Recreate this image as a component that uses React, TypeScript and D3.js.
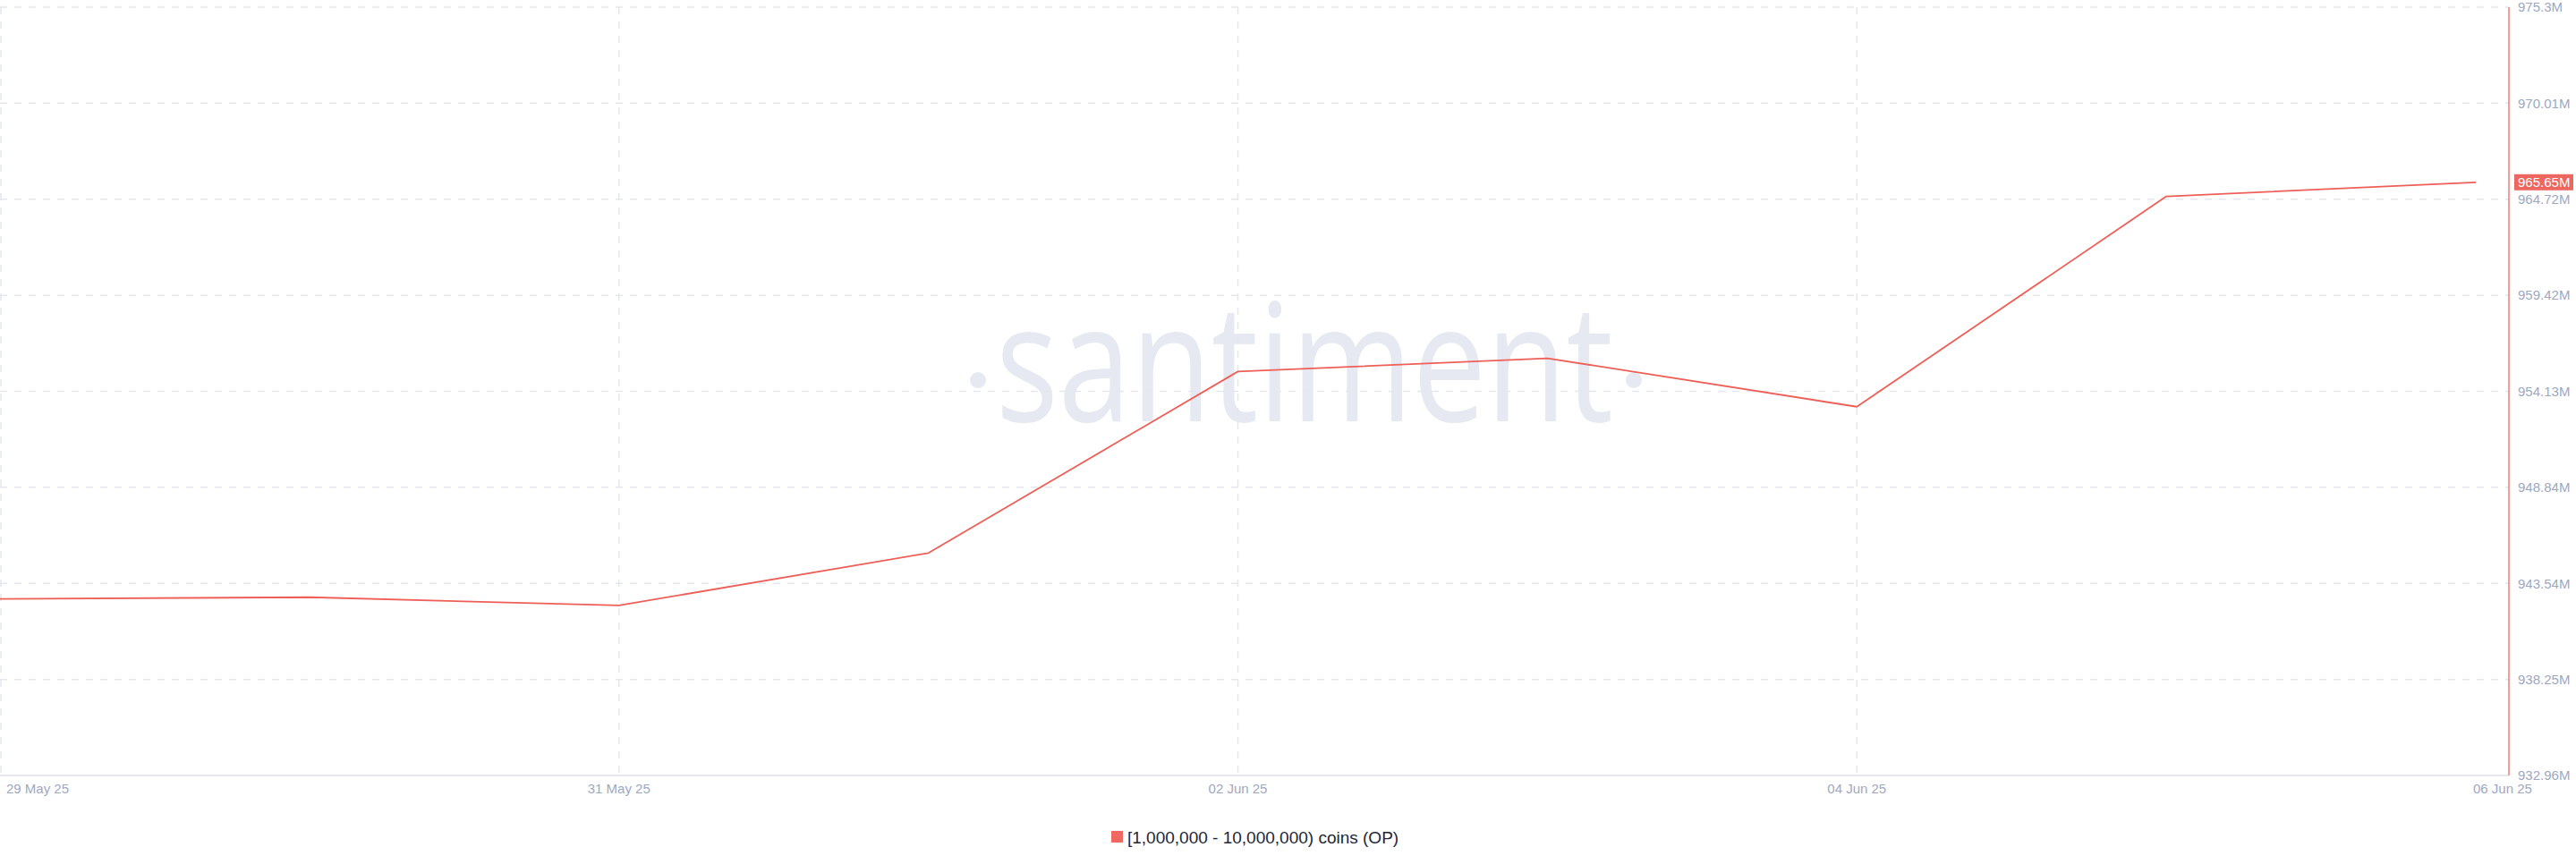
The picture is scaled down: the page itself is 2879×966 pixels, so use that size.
import React from "react";
import * as d3 from "d3";

const dates = ["2025-05-29", "2025-05-30", "2025-05-31", "2025-06-01", "2025-06-02", "2025-06-03", "2025-06-04", "2025-06-05", "2025-06-06"];
const values = [942.69, 942.78, 942.33, 945.22, 955.22, 955.95, 953.28, 964.87, 965.65];
const yTicks = [932.96, 938.25, 943.54, 948.84, 954.13, 959.42, 964.72, 970.01, 975.3];
const xTickDates = ["2025-05-29", "2025-05-31", "2025-06-02", "2025-06-04", "2025-06-06"];
const seriesName = "[1,000,000 - 10,000,000) coins (OP)";
const lastLabel = "965.65M";

const W = 2879;
const H = 966;
const axisX = 2804;
const top = 8;
const bottom = 867;
const FONT = "'Liberation Sans', Arial, sans-serif";
const RED = "#ee5f58";
const LABEL = "#9ea8c1";
const GRID = "#e4e7ef";

export default function App() {
  const parse = d3.utcParse("%Y-%m-%d");
  const fmt = d3.utcFormat("%d %b %y");
  const x = d3.scaleUtc().domain([parse(dates[0])!, parse(dates[dates.length - 1])!]).range([0, 2767]);
  const y = d3.scaleLinear().domain([932.96, 975.3]).range([bottom, top]);
  const pts = dates.map((d, i) => [x(parse(d)!), y(values[i])] as [number, number]);
  const line = d3.line()(pts) || "";
  const lastY = y(values[values.length - 1]);

  return (
    <svg width={W} height={H} style={{ position: "absolute", left: 0, top: 0, background: "#fff" }}>
      {/* watermark */}
      <g fill="#e6e9f1">
        <circle cx={1093} cy={425} r={9} />
        <text x={1113} y={471} fontFamily="'Open Sans', sans-serif" fontWeight={500} fontSize={183} textLength={690} lengthAdjust="spacingAndGlyphs">santiment</text>
        <circle cx={1826} cy={425} r={9} />
      </g>
      {/* horizontal grid */}
      {yTicks.slice(1).map((t) => (
        <line key={"h" + t} x1={0} x2={axisX} y1={y(t)} y2={y(t)} stroke={GRID} strokeWidth={1.5} strokeDasharray="8,8" />
      ))}
      {/* vertical grid */}
      {xTickDates.slice(0, 4).map((d) => (
        <line key={"v" + d} x1={Math.max(1, x(parse(d)!))} x2={Math.max(1, x(parse(d)!))} y1={top} y2={bottom} stroke={GRID} strokeWidth={1.5} strokeDasharray="8,8" />
      ))}
      {/* bottom axis */}
      <line x1={0} x2={axisX} y1={bottom} y2={bottom} stroke="#dfe2ea" strokeWidth={1.5} />
      {/* right axis */}
      <line x1={axisX} x2={axisX} y1={top} y2={bottom} stroke="#f07b74" strokeWidth={1.5} />
      {/* series */}
      <path d={line} fill="none" stroke={RED} strokeWidth={1.8} strokeLinejoin="round" />
      {/* y labels */}
      {yTicks.map((t) => (
        <text key={"yl" + t} x={2814} y={y(t)} dy="0.35em" fill={LABEL} fontFamily={FONT} fontSize={15}>{`${t}M`}</text>
      ))}
      {/* last value badge */}
      <rect x={2810} y={lastY - 9} width={66} height={18} fill="#ee6660" />
      <text x={2814} y={lastY} dy="0.36em" fill="#fff" fontFamily={FONT} fontSize={15}>{lastLabel}</text>
      {/* x labels */}
      {xTickDates.map((d, i) => {
        const xp = x(parse(d)!);
        const first = i === 0;
        const last = i === xTickDates.length - 1;
        return (
          <text
            key={"xl" + d}
            x={first ? xp + 7 : last ? xp - 3 : xp}
            y={882}
            dy="0.35em"
            textAnchor={first || last ? "start" : "middle"}
            fill={LABEL}
            fontFamily={FONT}
            fontSize={15}
          >
            {fmt(parse(d)!)}
          </text>
        );
      })}
      {/* legend */}
      <rect x={1242} y={929} width={13} height={13} fill="#ef6862" />
      <text x={1260} y={936} dy="0.35em" fill="#232736" fontFamily={FONT} fontSize={19}>{seriesName}</text>
    </svg>
  );
}
